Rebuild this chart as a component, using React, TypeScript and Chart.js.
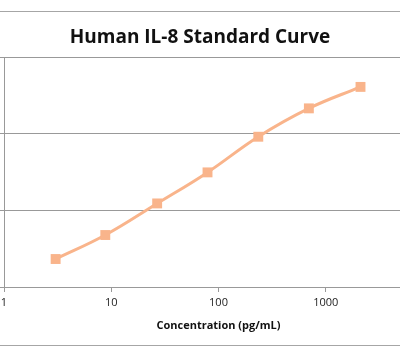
import React, { useEffect, useRef } from "react";
import { Chart, registerables } from "chart.js";

Chart.register(...registerables);

const concentrations = [3.03, 8.8, 26.8, 79, 235, 696, 2109];
const absorbance = [0.365, 0.678, 1.09, 1.495, 1.96, 2.33, 2.61];
const xTickValues = [1, 10, 100, 1000, 10000];
const chartTitle = "Human IL-8 Standard Curve";
const xAxisTitle = "Concentration (pg/mL)";
const seriesColor = "#F9B48B";

export default function App() {
  const canvasRef = useRef<HTMLCanvasElement | null>(null);

  useEffect(() => {
    if (!canvasRef.current) return;
    const chart = new Chart(canvasRef.current, {
      type: "line",
      data: {
        datasets: [
          {
            data: concentrations.map((c, i) => ({ x: c, y: absorbance[i] })),
            borderColor: seriesColor,
            backgroundColor: seriesColor,
            borderWidth: 3,
            tension: 0.4,
            pointStyle: "rect",
            pointRadius: 7,
            pointBorderWidth: 0,
            pointBackgroundColor: seriesColor,
          },
        ],
      },
      options: {
        animation: false,
        responsive: false,
        maintainAspectRatio: false,
        layout: { padding: { left: 0, right: 20, top: 57, bottom: 0 } },
        plugins: {
          legend: { display: false },
          title: { display: false },
          tooltip: { enabled: false },
        },
        scales: {
          x: {
            type: "logarithmic",
            min: 1,
            max: 10000,
            afterBuildTicks: (scale: any) => {
              scale.ticks = xTickValues.map((v) => ({ value: v }));
            },
            afterFit: (scale: any) => {
              scale.height = 75;
              scale.paddingLeft = 0;
              scale.paddingRight = 0;
            },
            grid: {
              drawOnChartArea: false,
              drawTicks: true,
              tickLength: 5,
              color: "#999999",
            },
            border: { display: true, color: "#999999", width: 1 },
            ticks: {
              autoSkip: false,
              maxRotation: 0,
              padding: 4,
              color: "#222222",
              font: { family: "'Open Sans', 'DejaVu Sans', sans-serif", size: 11 },
              callback: (v: any) => String(v),
            },
            title: {
              display: true,
              text: xAxisTitle,
              color: "#111111",
              font: { family: "'Open Sans', 'DejaVu Sans', sans-serif", size: 11, weight: "bold" },
              padding: { top: 4, bottom: 30 },
            },
          },
          y: {
            type: "linear",
            min: 0,
            max: 3,
            afterFit: (scale: any) => {
              scale.width = 4;
            },
            ticks: { display: false, stepSize: 1 },
            grid: {
              color: "#999999",
              drawTicks: true,
              tickLength: 4,
            },
            border: { display: true, color: "#999999", width: 1 },
          },
        },
      },
    });
    return () => chart.destroy();
  }, []);

  return (
    <div
      style={{
        position: "fixed",
        left: 0,
        top: 0,
        width: 400,
        height: 362,
        overflow: "hidden",
        background: "#ffffff",
      }}
    >
      <div
        style={{
          position: "absolute",
          left: -4,
          top: 11,
          width: 408,
          height: 333,
          border: "1px solid #a6a6a6",
        }}
      />
      <canvas
        ref={canvasRef}
        width={456}
        height={362}
        style={{ position: "absolute", left: -3, top: 0, width: 456, height: 362 }}
      />
      <div
        style={{
          position: "absolute",
          left: 0,
          top: 23,
          width: 400,
          textAlign: "center",
          fontFamily: "'Open Sans', 'DejaVu Sans', sans-serif",
          fontWeight: "bold",
          fontSize: 19,
          lineHeight: "26px",
          color: "#111111",
        }}
      >
        {chartTitle}
      </div>
    </div>
  );
}
